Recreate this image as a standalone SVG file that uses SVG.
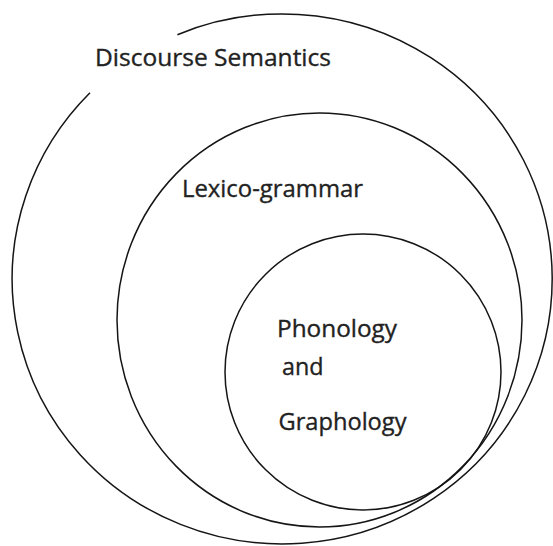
<svg xmlns="http://www.w3.org/2000/svg" width="553" height="546" viewBox="0 0 553 546">
  <style>
    .ring { fill: none; stroke: #151515; stroke-width: 1.5; }
    .label { font-family: "Open Sans", "Liberation Sans", sans-serif; font-size: 23.5px; fill: #222; stroke: #222; stroke-width: 0.35; }
  </style>
  <rect x="0" y="0" width="553" height="546" fill="#ffffff"/>
  <g id="discourse-semantics">
    <path class="ring" d="M 177.4 34.7 A 270 265 0 1 1 90 92.8"/>
    <text class="label" x="95" y="66" textLength="236" lengthAdjust="spacingAndGlyphs">Discourse Semantics</text>
  </g>
  <g id="lexico-grammar">
    <ellipse class="ring" cx="319.5" cy="320" rx="202.5" ry="207"/>
    <text class="label" x="182" y="196.5" textLength="181" lengthAdjust="spacingAndGlyphs">Lexico-grammar</text>
  </g>
  <g id="phonology-graphology">
    <ellipse class="ring" cx="363" cy="372" rx="138" ry="138"/>
    <text class="label" x="277" y="337" textLength="120" lengthAdjust="spacingAndGlyphs">Phonology</text>
    <text class="label" x="282" y="375" textLength="41.5" lengthAdjust="spacingAndGlyphs">and</text>
    <text class="label" x="278.5" y="430" textLength="128" lengthAdjust="spacingAndGlyphs">Graphology</text>
  </g>
  <g id="connectors"/>
</svg>
